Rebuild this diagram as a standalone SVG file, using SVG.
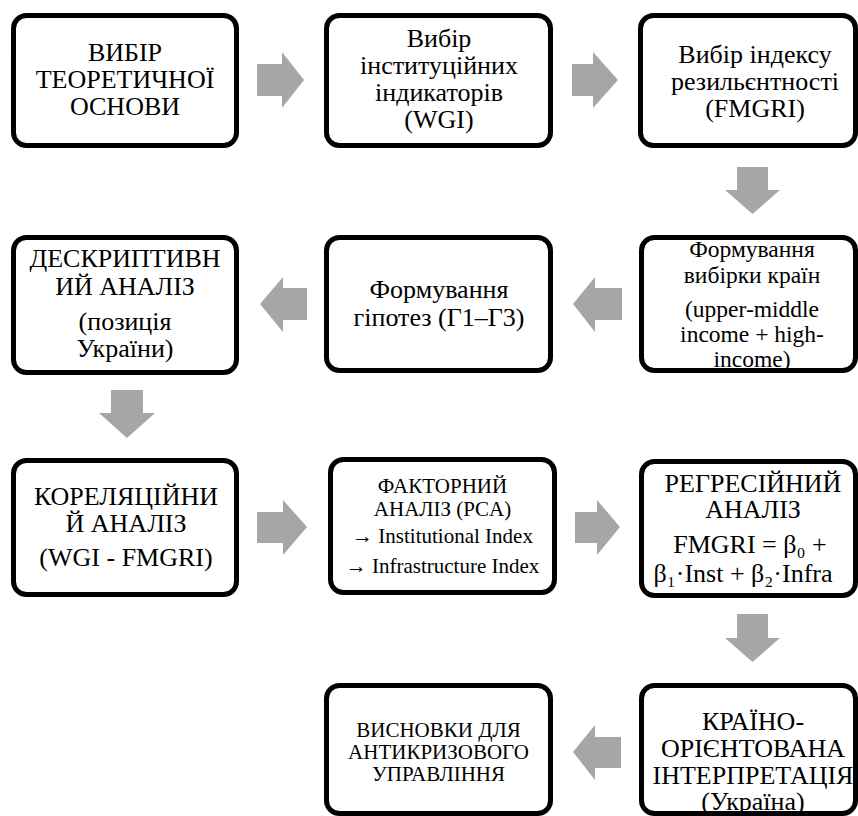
<svg xmlns="http://www.w3.org/2000/svg" width="858" height="816" viewBox="0 0 858 816">
<style>
.box{fill:#fff;stroke:#000;stroke-width:5}
.t{font-family:'Liberation Serif',serif;font-size:26px;fill:#000;text-anchor:middle}
.s{font-size:23.5px}
.m{font-size:21px}
.arr{fill:#A6A6A6;stroke:none}
</style>
<rect width="858" height="816" fill="#fff"/>
<g id="connectors">
<path class="arr" d="M257,64 H282 V52 L304,80 L282,108 V96 H257 Z"/>
<path class="arr" d="M572,64 H593 V52 L618,80 L593,108 V96 H572 Z"/>
<path class="arr" d="M737,167 H768 V190 H780 L752.5,214 L725,190 H737 Z"/>
<path class="arr" d="M622,288 H595 V277 L573,304 L595,332 V320 H622 Z"/>
<path class="arr" d="M307,288 H283 V277 L260,304 L283,332 V320 H307 Z"/>
<path class="arr" d="M111,390 H143 V413 H155 L127,438 L99,413 H111 Z"/>
<path class="arr" d="M257,512 H283 V500 L307,527 L283,555 V543 H257 Z"/>
<path class="arr" d="M575,512 H597 V500 L620,527 L597,555 V543 H575 Z"/>
<path class="arr" d="M737,614 H768 V638 H780 L752.5,662 L725,638 H737 Z"/>
<path class="arr" d="M621,737 H595 V725 L573,752 L595,780 V768 H621 Z"/>
</g>
<g id="n1"><rect class="box" x="13.5" y="15.5" width="223" height="130" rx="13"/>
<text class="t"><tspan x="125" y="61">ВИБІР</tspan><tspan x="125" y="88">ТЕОРЕТИЧНОЇ</tspan><tspan x="125" y="115">ОСНОВИ</tspan></text></g>
<g id="n2"><rect class="box" x="326.5" y="15.5" width="224" height="130" rx="13"/>
<text class="t"><tspan x="439" y="47">Вибір</tspan><tspan x="439" y="74">інституційних</tspan><tspan x="439" y="101">індикаторів</tspan><tspan x="439" y="128">(WGI)</tspan></text></g>
<g id="n3"><rect class="box" x="640.5" y="15.5" width="215" height="130" rx="13"/>
<text class="t"><tspan x="755" y="63">Вибір індексу</tspan><tspan x="755" y="90">резильєнтності</tspan><tspan x="755" y="117">(FMGRI)</tspan></text></g>
<g id="n4"><rect class="box" x="13.5" y="237.5" width="223" height="135" rx="13"/>
<text class="t"><tspan x="125" y="267">ДЕСКРИПТИВН</tspan><tspan x="125" y="295">ИЙ АНАЛІЗ</tspan><tspan x="125" y="330">(позиція</tspan><tspan x="125" y="357">України)</tspan></text></g>
<g id="n5"><rect class="box" x="326.5" y="237.5" width="224" height="133" rx="13"/>
<text class="t"><tspan x="439" y="298">Формування</tspan><tspan x="439" y="326">гіпотез (Г1–Г3)</tspan></text></g>
<g id="n6"><rect class="box" x="641.5" y="237.5" width="214" height="133" rx="13"/>
<text class="t s"><tspan x="752" y="257">Формування</tspan><tspan x="752" y="283">вибірки країн</tspan><tspan x="752" y="317">(upper-middle</tspan><tspan x="752" y="342">income + high-</tspan><tspan x="752" y="367">income)</tspan></text></g>
<g id="n7"><rect class="box" x="13.5" y="460.5" width="223" height="134" rx="13"/>
<text class="t"><tspan x="126" y="505">КОРЕЛЯЦІЙНИ</tspan><tspan x="126" y="532">Й АНАЛІЗ</tspan><tspan x="126" y="566">(WGI - FMGRI)</tspan></text></g>
<g id="n8"><rect class="box" x="330.5" y="459.5" width="224" height="133" rx="13"/>
<text class="t m"><tspan x="442.5" y="493">ФАКТОРНИЙ</tspan><tspan x="442.5" y="516">АНАЛІЗ (PCA)</tspan><tspan x="442.5" y="543">→ Institutional Index</tspan><tspan x="442.5" y="573">→ Infrastructure Index</tspan></text></g>
<g id="n9"><rect class="box" x="641.5" y="461.5" width="214" height="134" rx="13"/>
<text class="t"><tspan x="753" y="492">РЕГРЕСІЙНИЙ</tspan><tspan x="753" y="518">АНАЛІЗ</tspan><tspan x="750" y="553">FMGRI = β₀ +</tspan><tspan x="743" y="582">β₁·Inst + β₂·Infra</tspan></text></g>
<g id="n10"><rect class="box" x="641.5" y="685.5" width="214" height="128" rx="13"/>
<text class="t"><tspan x="753" y="730">КРАЇНО-</tspan><tspan x="753" y="757">ОРІЄНТОВАНА</tspan><tspan x="753" y="784">ІНТЕРПРЕТАЦІЯ</tspan><tspan x="753" y="810">(Україна)</tspan></text></g>
<g id="n11"><rect class="box" x="326.5" y="685.5" width="224" height="128" rx="13"/>
<text class="t m"><tspan x="438.5" y="737">ВИСНОВКИ ДЛЯ</tspan><tspan x="438.5" y="759">АНТИКРИЗОВОГО</tspan><tspan x="438.5" y="781">УПРАВЛІННЯ</tspan></text></g>
</svg>
